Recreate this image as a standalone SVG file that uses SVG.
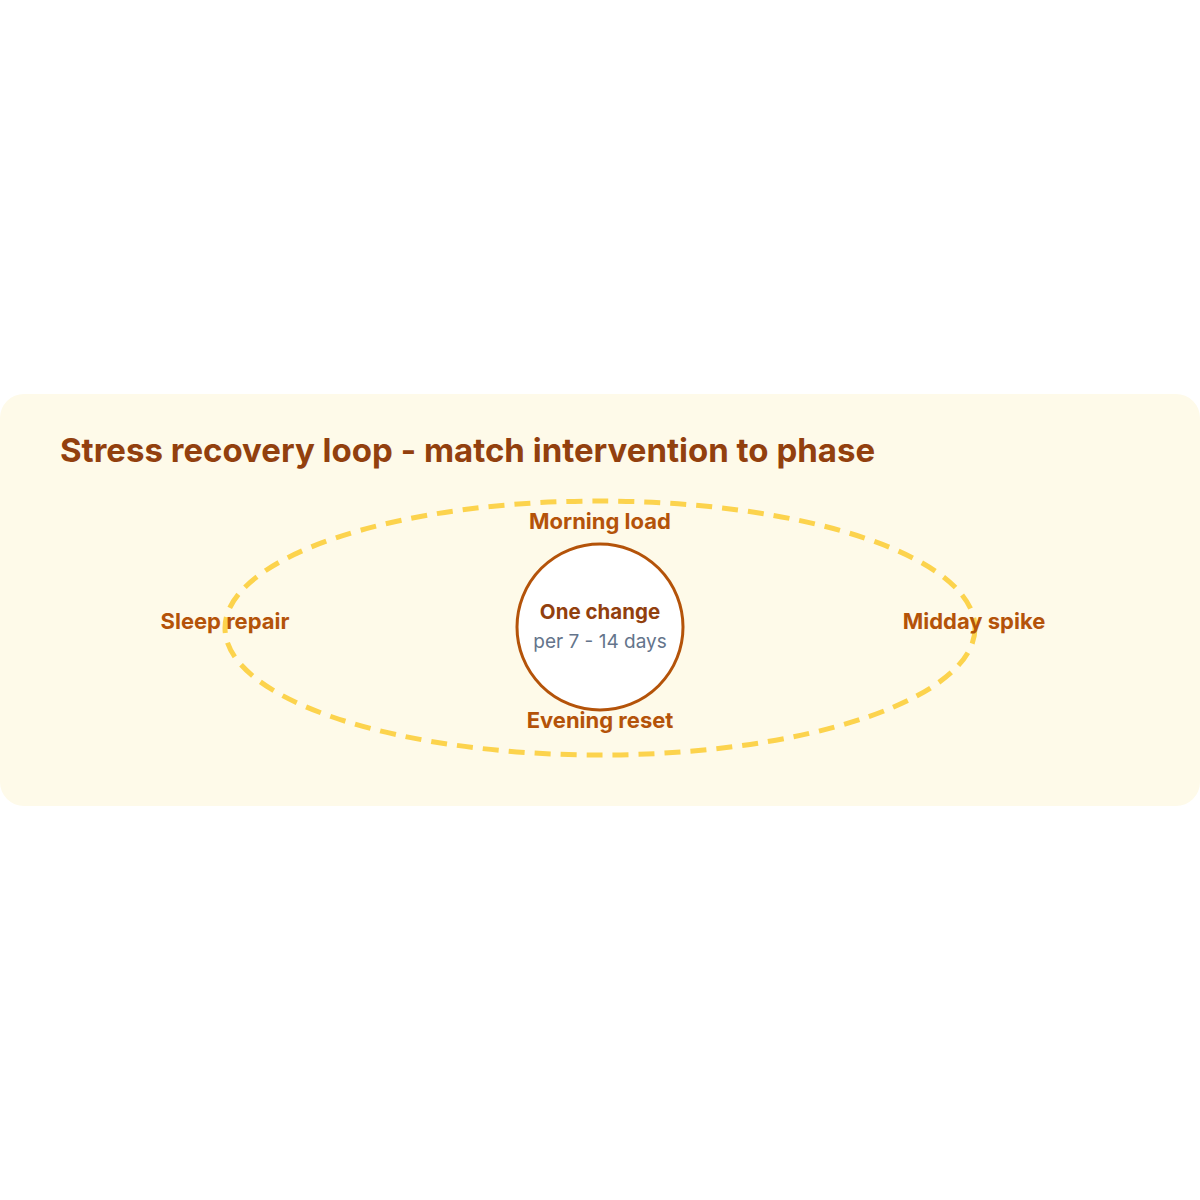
<svg xmlns="http://www.w3.org/2000/svg" width="1200" height="1200" viewBox="0 0 1200 1200">
<style>
text{font-family:Inter,"Noto Sans","Liberation Sans",sans-serif}
.title{font-size:33px;font-weight:700;fill:#92400e}
.lbl{font-size:22px;font-weight:700;fill:#b45309;text-anchor:middle}
.c1{font-size:20.5px;font-weight:700;fill:#92400e;text-anchor:middle}
.c2{font-size:19px;fill:#64748b;text-anchor:middle}
</style>
<rect width="1200" height="1200" fill="#ffffff"/>
<rect x="0" y="394" width="1200" height="412" rx="24" fill="#fefae9"/>
<text class="title" x="60" y="462">Stress recovery loop - match intervention to phase</text>
<g id="connectors">
<ellipse cx="600" cy="628" rx="375" ry="127" fill="none" stroke="#fcd34d" stroke-width="5" stroke-dasharray="16 10"/>
</g>
<g id="morning"><text class="lbl" x="600" y="529">Morning load</text></g>
<g id="midday"><text class="lbl" x="974" y="629">Midday spike</text></g>
<g id="evening"><text class="lbl" x="600" y="728">Evening reset</text></g>
<g id="sleep"><text class="lbl" x="225" y="629">Sleep repair</text></g>
<g id="center">
<circle cx="600" cy="627" r="83" fill="#ffffff" stroke="#b45309" stroke-width="3"/>
<text class="c1" x="600" y="619">One change</text>
<text class="c2" x="600" y="648">per 7 - 14 days</text>
</g>
</svg>
